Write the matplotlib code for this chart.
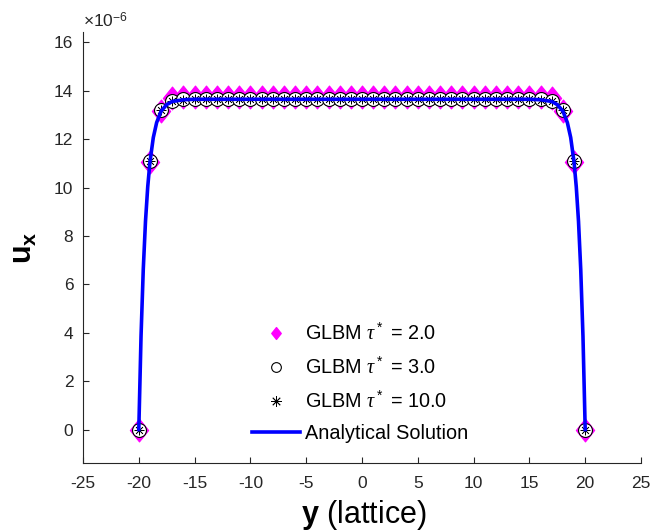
import numpy as np
import matplotlib
matplotlib.use("Agg")
import matplotlib.pyplot as plt
from matplotlib.path import Path
from matplotlib.lines import Line2D

plt.rcParams['font.family'] = ['Liberation Sans', 'DejaVu Sans']
plt.rcParams['mathtext.fontset'] = 'custom'
plt.rcParams['mathtext.rm'] = 'Liberation Sans'
plt.rcParams['mathtext.it'] = 'Liberation Serif:italic'
plt.rcParams['mathtext.bf'] = 'Liberation Sans:bold'
plt.rcParams['axes.unicode_minus'] = False

# ---------------- data (values in units of 1e-6) ----------------
y_nodes = list(range(-20, 21))

glbm_tau2 = [0.0, 11.05, 13.15, 13.72] + [13.76] * 33 + [13.72, 13.15, 11.05, 0.0]
glbm_tau3 = [0.0, 11.08, 13.22, 13.58, 13.65] + [13.67] * 31 + [13.65, 13.58, 13.22, 11.08, 0.0]
glbm_tau10 = [0.0, 11.08, 13.20, 13.57, 13.64] + [13.66] * 31 + [13.64, 13.57, 13.20, 11.08, 0.0]

y_analytic = [-20.0, -19.8, -19.6, -19.4, -19.2, -19.0, -18.7, -18.4, -18.0, -17.5, -17.0, -16.0, -15.0,
              15.0, 16.0, 17.0, 17.5, 18.0, 18.4, 18.7, 19.0, 19.2, 19.4, 19.6, 19.8, 20.0]
u_analytic = [0.0, 3.86, 6.62, 8.61, 10.03, 11.06, 12.07, 12.69, 13.16, 13.43, 13.56, 13.63, 13.65,
              13.65, 13.63, 13.56, 13.43, 13.16, 12.69, 12.07, 11.06, 10.03, 8.61, 6.62, 3.86, 0.0]

labels = [r'GLBM $\tau^*$ = 2.0', r'GLBM $\tau^*$ = 3.0', r'GLBM $\tau^*$ = 10.0', 'Analytical Solution']

scale = 1e-6

# ---------------- figure ----------------
fig = plt.figure(figsize=(6.5, 5.31), dpi=100)
ax = fig.add_axes([83 / 650, (531 - 463) / 531, 558 / 650, (463 - 32) / 531])

diamond = Path([(0, 1), (0.8, 0), (0, -1), (-0.8, 0), (0, 1)],
               [Path.MOVETO, Path.LINETO, Path.LINETO, Path.LINETO, Path.CLOSEPOLY])

yn = np.array(y_nodes)
ax.plot(yn, np.array(glbm_tau2) * scale, linestyle='none', marker=diamond, markersize=16.5,
        markerfacecolor='#ff00ff', markeredgecolor='#ff00ff', markeredgewidth=0.8, zorder=2)
ax.plot(yn, np.array(glbm_tau3) * scale, linestyle='none', marker='o', markersize=10,
        markerfacecolor='white', markeredgecolor='black', markeredgewidth=0.8, zorder=3)
ax.plot(yn, np.array(glbm_tau10) * scale, linestyle='none', marker=(8, 2, 0), markersize=7,
        markeredgecolor='black', markeredgewidth=0.5, zorder=4)
ax.plot(np.array(y_analytic), np.array(u_analytic) * scale, color='#0000ff', linewidth=2.6, zorder=5)

ax.set_xlim(-25, 25)
ax.set_ylim(-1.38e-6, 16.43e-6)
ax.set_xticks(np.arange(-25, 26, 5))
ax.set_yticks(np.arange(0, 17, 2) * scale)
ax.set_yticklabels([str(v) for v in range(0, 17, 2)])

for s in ['top', 'right']:
    ax.spines[s].set_visible(False)
for s in ['left', 'bottom']:
    ax.spines[s].set_color('#262626')
    ax.spines[s].set_linewidth(0.8)
ax.tick_params(direction='in', length=4, width=0.8, colors='#262626', labelsize=12.5)
ax.tick_params(axis='x', pad=9)
ax.tick_params(axis='y', pad=7)

fig.text(83 / 650, 1 - 27 / 531, r'$\times$10$^{\mathrm{-6}}$', fontsize=12.5, color='#262626',
         ha='left', va='baseline')

fig.text(24 / 650, 1 - 248 / 531, r'$\mathbf{u_x}$', fontsize=22, rotation=90,
         ha='center', va='center', color='black')
fig.text(364 / 650, 1 - 515 / 531, r'$\mathbf{y}$ (lattice)', fontsize=22,
         ha='center', va='center', color='black')

# legend with smaller markers
h1 = Line2D([], [], linestyle='none', marker=diamond, markersize=8.5,
            markerfacecolor='#ff00ff', markeredgecolor='#ff00ff')
h2 = Line2D([], [], linestyle='none', marker='o', markersize=7,
            markerfacecolor='white', markeredgecolor='black', markeredgewidth=0.8)
h3 = Line2D([], [], linestyle='none', marker=(8, 2, 0), markersize=7.5,
            markeredgecolor='black', markeredgewidth=0.6)
h4 = Line2D([], [], color='#0000ff', linewidth=2.6)
leg = fig.legend([h1, h2, h3, h4], labels, loc='center',
                 bbox_to_anchor=(360 / 650, 1 - 383 / 531), frameon=False,
                 fontsize=14.3, handlelength=2.45, handletextpad=0.25, labelspacing=0.63,
                 borderpad=0)

fig.savefig('out.png', dpi=100)
